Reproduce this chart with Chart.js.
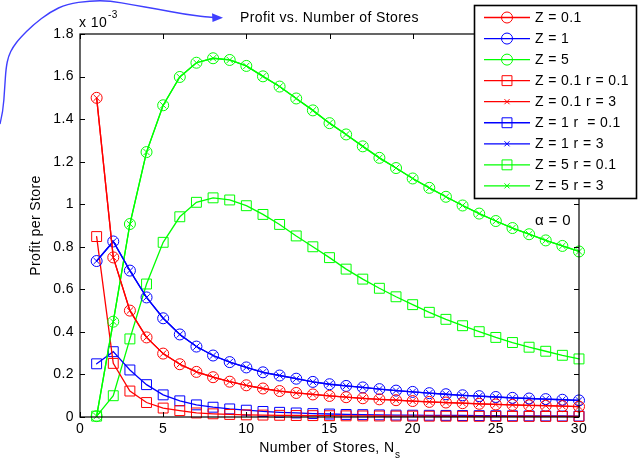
<!DOCTYPE html>
<html>
<head>
<meta charset="utf-8">
<title>Profit vs. Number of Stores</title>
<script src="https://cdn.jsdelivr.net/npm/chart.js@4.4.1/dist/chart.umd.min.js"></script>
<style>
  html, body { margin: 0; padding: 0; background: #ffffff; }
  #wrap { width: 644px; height: 460px; position: relative; }
</style>
</head>
<body>
<div id="wrap"><canvas id="chart" width="644" height="460"></canvas></div>
<script>
// Number of stores (x axis)
const storeCounts = [1, 2, 3, 4, 5, 6, 7, 8, 9, 10, 11, 12, 13, 14, 15,
                     16, 17, 18, 19, 20, 21, 22, 23, 24, 25, 26, 27, 28, 29, 30];

// Profit per store, in units of 1e-3
const profitZ01 = [1.50, 0.75, 0.50, 0.374, 0.298, 0.248, 0.212, 0.187, 0.166, 0.149,
                   0.134, 0.122, 0.113, 0.106, 0.099, 0.093, 0.088, 0.083, 0.079, 0.075,
                   0.071, 0.068, 0.065, 0.062, 0.059, 0.057, 0.055, 0.053, 0.051, 0.049];
const profitZ1  = [0.733, 0.825, 0.688, 0.562, 0.464, 0.388, 0.331, 0.289, 0.258, 0.233,
                   0.210, 0.195, 0.180, 0.165, 0.154, 0.146, 0.139, 0.131, 0.124, 0.118,
                   0.112, 0.107, 0.102, 0.098, 0.094, 0.090, 0.087, 0.084, 0.081, 0.078];
const profitZ5  = [0.004, 0.448, 0.907, 1.245, 1.465, 1.598, 1.665, 1.686, 1.678, 1.650,
                   1.601, 1.553, 1.497, 1.441, 1.381, 1.328, 1.272, 1.218, 1.170, 1.121,
                   1.077, 1.035, 0.994, 0.956, 0.921, 0.888, 0.859, 0.830, 0.804, 0.778];
const profitZ01r01 = [0.848, 0.252, 0.122, 0.068, 0.042, 0.030, 0.019, 0.015, 0.012, 0.010,
                      0.009, 0.008, 0.007, 0.0065, 0.006, 0.0055, 0.005, 0.0047, 0.0044, 0.0041,
                      0.0038, 0.0036, 0.0034, 0.0032, 0.003, 0.0029, 0.0028, 0.0027, 0.0026, 0.0025];
const profitZ1r01  = [0.250, 0.307, 0.221, 0.152, 0.104, 0.076, 0.057, 0.046, 0.038, 0.032,
                      0.026, 0.022, 0.019, 0.016, 0.014, 0.012, 0.011, 0.010, 0.009, 0.0085,
                      0.008, 0.0075, 0.007, 0.0065, 0.006, 0.0056, 0.0052, 0.0049, 0.0046, 0.0043];
const profitZ5r01  = [0.004, 0.100, 0.367, 0.625, 0.821, 0.941, 1.009, 1.030, 1.020, 0.993,
                      0.952, 0.905, 0.851, 0.800, 0.749, 0.695, 0.648, 0.605, 0.565, 0.528,
                      0.492, 0.459, 0.429, 0.401, 0.374, 0.350, 0.328, 0.309, 0.290, 0.273];

// Axis ticks
const xTicks = [0, 5, 10, 15, 20, 25, 30];
const yTicks = [0, 0.2, 0.4, 0.6, 0.8, 1, 1.2, 1.4, 1.6, 1.8];

// Legend labels
const seriesLabels = ['Z = 0.1', 'Z = 1', 'Z = 5', 'Z = 0.1 r = 0.1', 'Z = 0.1 r = 3',
                      'Z = 1 r  = 0.1', 'Z = 1 r = 3', 'Z = 5 r = 0.1', 'Z = 5 r = 3'];

const FONT = '"Liberation Sans", Arial, Helvetica, sans-serif';
const FS = 14;
const RED = '#ff0000', BLUE = '#0000ff', GREEN = '#00ff00';
const CLEAR = 'rgba(0,0,0,0)';

function series(label, values, color, style, radius, legendRadius) {
  return {
    label,
    data: values.map((v, i) => ({ x: storeCounts[i], y: v })),
    borderColor: color,
    backgroundColor: CLEAR,
    borderWidth: 1.3,
    pointStyle: style,
    pointRadius: radius,
    pointHoverRadius: radius,
    pointBorderWidth: 1,
    pointBorderColor: color,
    pointBackgroundColor: CLEAR,
    tension: 0,
    fill: false,
    clip: false,
    legendRadius
  };
}

const datasets = [
  series(seriesLabels[0], profitZ01, RED, 'circle', 5.5, 5.5),
  series(seriesLabels[1], profitZ1, BLUE, 'circle', 5.5, 5.5),
  series(seriesLabels[2], profitZ5, GREEN, 'circle', 5.5, 5.5),
  series(seriesLabels[3], profitZ01r01, RED, 'rect', 7, 7),
  series(seriesLabels[4], profitZ01, RED, 'crossRot', 4.5, 3),
  series(seriesLabels[5], profitZ1r01, BLUE, 'rect', 7, 7),
  series(seriesLabels[6], profitZ1, BLUE, 'crossRot', 4.5, 3),
  series(seriesLabels[7], profitZ5r01, GREEN, 'rect', 7, 7),
  series(seriesLabels[8], profitZ5, GREEN, 'crossRot', 4.5, 3)
];

function drawMarker(ctx, style, r, x, y) {
  ctx.beginPath();
  if (style === 'circle') {
    ctx.arc(x, y, r, 0, Math.PI * 2);
  } else if (style === 'rect') {
    const h = r / Math.SQRT2;
    ctx.rect(x - h, y - h, 2 * h, 2 * h);
  } else {
    const h = r * Math.SQRT1_2 * 1.2;
    ctx.moveTo(x - h, y - h); ctx.lineTo(x + h, y + h);
    ctx.moveTo(x - h, y + h); ctx.lineTo(x + h, y - h);
  }
  ctx.stroke();
}

// Axes box with inward tick marks on all four sides, plus labels and legend
const framePlugin = {
  id: 'frame',
  beforeDraw(chart) {
    chart.ctx.letterSpacing = '0.4px';
  },
  afterDatasetsDraw(chart) {
    const { ctx, chartArea: a, scales } = chart;
    ctx.save();
    ctx.strokeStyle = '#000';
    ctx.lineWidth = 1.2;
    ctx.strokeRect(a.left, a.top, a.right - a.left, a.bottom - a.top);
    ctx.lineWidth = 1;
    ctx.beginPath();
    xTicks.forEach(v => {
      const px = Math.round(scales.x.getPixelForValue(v)) + 0.5;
      ctx.moveTo(px, a.bottom); ctx.lineTo(px, a.bottom - 5);
      ctx.moveTo(px, a.top); ctx.lineTo(px, a.top + 5);
    });
    yTicks.forEach(v => {
      const py = Math.round(scales.y.getPixelForValue(v)) + 0.5;
      ctx.moveTo(a.left, py); ctx.lineTo(a.left + 5, py);
      ctx.moveTo(a.right, py); ctx.lineTo(a.right - 5, py);
    });
    ctx.stroke();
    ctx.restore();
  },
  afterDraw(chart) {
    const { ctx, chartArea: a, scales } = chart;
    ctx.save();
    ctx.letterSpacing = '0.4px';
    ctx.fillStyle = '#000';
    ctx.textBaseline = 'middle';

    // Title
    ctx.font = FS + 'px ' + FONT;
    ctx.textAlign = 'center';
    const cx = (a.left + a.right) / 2;
    ctx.fillText('Profit vs. Number of Stores', cx, a.top - 16);

    // Axis multiplier
    ctx.textAlign = 'left';
    ctx.fillText('x 10', a.left - 1, a.top - 11);
    const w10 = ctx.measureText('x 10').width;
    ctx.font = '10px ' + FONT;
    ctx.fillText('-3', a.left - 1 + w10 + 1, a.top - 19);

    // X axis title with subscript
    ctx.font = FS + 'px ' + FONT;
    const main = 'Number of Stores, N';
    const wMain = ctx.measureText(main).width;
    ctx.font = '10px ' + FONT;
    const wSub = ctx.measureText('s').width;
    const start = cx - (wMain + wSub) / 2;
    ctx.font = FS + 'px ' + FONT;
    ctx.fillText(main, start, a.bottom + 31);
    ctx.font = '10px ' + FONT;
    ctx.fillText('s', start + wMain + 0.5, a.bottom + 38);

    // Parameter note
    ctx.font = '15px ' + FONT;
    ctx.fillText('\u03b1 = 0', scales.x.getPixelForValue(27.35), scales.y.getPixelForValue(0.92));

    // Hand-drawn pointer curve
    const pts = [[0,124],[3,112],[4.7,88],[6,68],[8.5,56],[13,47],[20,38],[33,25],[50,12],
                 [67,4],[90,0.8],[110,0.8],[133,5],[157,9],[183,14],[207,17],[215,17.5]];
    ctx.strokeStyle = '#3f3fff';
    ctx.fillStyle = '#3f3fff';
    ctx.lineWidth = 1.4;
    ctx.beginPath();
    ctx.moveTo(pts[0][0], pts[0][1]);
    for (let i = 1; i < pts.length - 1; i++) {
      const mx = (pts[i][0] + pts[i + 1][0]) / 2, my = (pts[i][1] + pts[i + 1][1]) / 2;
      ctx.quadraticCurveTo(pts[i][0], pts[i][1], mx, my);
    }
    ctx.lineTo(pts[pts.length - 1][0], pts[pts.length - 1][1]);
    ctx.stroke();
    ctx.beginPath();
    ctx.moveTo(223, 17.8);
    ctx.lineTo(212, 13.2);
    ctx.lineTo(212.5, 22);
    ctx.closePath();
    ctx.fill();

    // Legend box
    const lx = 474.5, ly = 5.5, lw = 162, lh = 193;
    ctx.fillStyle = '#fff';
    ctx.fillRect(lx, ly, lw, lh);
    ctx.strokeStyle = '#000';
    ctx.lineWidth = 1.6;
    ctx.strokeRect(lx, ly, lw, lh);
    ctx.font = FS + 'px ' + FONT;
    chart.data.datasets.forEach((ds, i) => {
      const y = 17.5 + i * 21.05;
      ctx.strokeStyle = ds.borderColor;
      ctx.lineWidth = 1.3;
      ctx.beginPath();
      ctx.moveTo(484, y); ctx.lineTo(530, y);
      ctx.stroke();
      ctx.lineWidth = 1;
      drawMarker(ctx, ds.pointStyle, ds.legendRadius, 507, y);
      ctx.fillStyle = '#000';
      ctx.fillText(ds.label, 535, y + 0.5);
    });
    ctx.restore();
  }
};

const tickFont = { family: FONT, size: FS };

new Chart(document.getElementById('chart'), {
  type: 'line',
  data: { datasets },
  options: {
    responsive: false,
    animation: false,
    devicePixelRatio: 1,
    layout: { padding: { left: 0, top: 34, right: 65, bottom: 0 } },
    plugins: {
      legend: { display: false },
      title: { display: false },
      tooltip: { enabled: false }
    },
    elements: { line: { borderCapStyle: 'round' } },
    scales: {
      x: {
        type: 'linear',
        min: 0, max: 30,
        afterBuildTicks(s) { s.ticks = xTicks.map(v => ({ value: v })); },
        afterFit(s) { s.height = 43; },
        grid: { display: false, drawTicks: false },
        border: { display: false },
        ticks: { padding: 4, color: '#000', font: tickFont, maxRotation: 0, callback: v => String(v) }
      },
      y: {
        type: 'linear',
        min: 0, max: 1.8,
        afterBuildTicks(s) { s.ticks = yTicks.map(v => ({ value: v })); },
        afterFit(s) { s.width = 80; },
        grid: { display: false, drawTicks: false },
        border: { display: false },
        ticks: { padding: 6, color: '#000', font: tickFont, callback: v => String(+(+v).toFixed(1)) },
        title: {
          display: true, text: 'Profit per Store', color: '#000',
          font: { family: FONT, size: FS }, padding: { top: 28, bottom: 0 }
        }
      }
    }
  },
  plugins: [framePlugin]
});
</script>
</body>
</html>
